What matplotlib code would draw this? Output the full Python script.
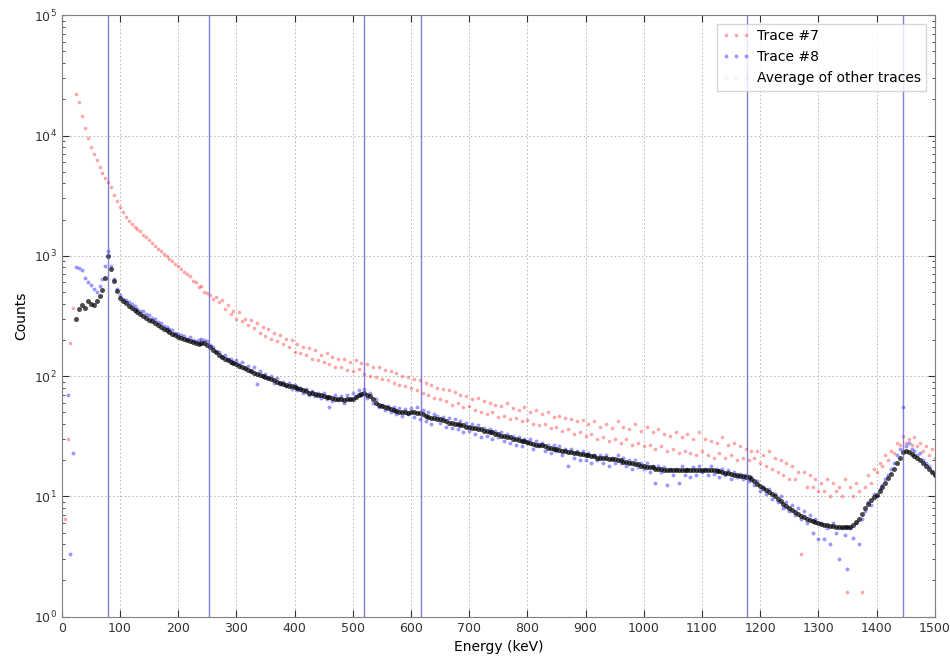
import numpy as np
import matplotlib
matplotlib.use('Agg')
import matplotlib.pyplot as plt
from matplotlib.ticker import LogLocator

nan = np.nan

# energy bins (keV), one every 5 keV from 5 to 1500
energy = np.arange(5, 1505, 5)

# Trace #7 (red)
trace7 = [
    6.5, 30, 190, 370, 22000, 19000, 14500, 11500, 9500, 8000,
    7000, 6200, 5500, 4900, 4400, 4100, 3700, 3200, 2850, 2560,
    2300, 2100, 1950, 1850, 1750, 1680, 1600, 1500, 1420, 1350,
    1280, 1210, 1150, 1100, 1040, 990, 940, 900, 850, 815,
    780, 740, 700, 680, 620, 610, 550, 560, 500, 490,
    470, 440, 455, 410, 430, 360, 390, 330, 350, 300,
    340, 285, 300, 265, 290, 250, 275, 230, 255, 215,
    245, 205, 230, 195, 220, 185, 205, 175, 200, 160,
    185, 155, 175, 150, 170, 140, 165, 135, 150, 130,
    155, 125, 145, 120, 140, 118, 138, 112, 132, 110,
    135, 115, 128, 105, 125, 100, 120, 98, 118, 95,
    112, 92, 110, 88, 106, 85, 100, 82, 98, 80,
    95, 76, 92, 72, 88, 70, 84, 66, 80, 64,
    78, 62, 76, 58, 74, 60, 70, 55, 68, 56,
    65, 52, 66, 50, 62, 48, 60, 50, 58, 46,
    56, 47, 60, 44, 54, 45, 52, 42, 55, 43,
    50, 40, 52, 39, 48, 40, 50, 37, 46, 38,
    47, 35, 45, 36, 44, 33, 42, 34, 43, 32,
    40, 33, 42, 30, 38, 31, 40, 29, 37, 30,
    42, 28, 38, 30, 36, 27, 40, 28, 35, 26,
    38, 27, 34, 25, 36, 26, 33, 24, 32, 25,
    34, 23, 31, 24, 33, 23, 30, 22, 34, 24,
    30, 22, 29, 21, 28, 23, 31, 21, 27, 22,
    28, 20, 26, 21, 25, 20, 24, 21, 24, 19,
    22, 18, 24, 17, 21, 16, 20, 15, 19, 14,
    18, 14, 16, 3.3, 16, 12, 15, 12, 14, 11,
    13, 11, 14, 10, 13, 11, 12, 10, 14, 1.6,
    12, 10, 13, 11, 1.6, 12, 15, 13, 17, 16,
    19, 18, 22, 20, 24, 23, 28, 27, 32, 28,
    30, 27, 31, 26, 28, 24, 26, 22, 25, 21,
]

# Trace #8 (blue)
trace8 = [
    nan, 70, 3.3, 23, 800, 790, 760, 650, 600, 570,
    530, 500, 560, 640, 820, 1100, 820, 640, 530, 470,
    440, 430, 410, 400, 380, 360, 350, 345, 330, 320,
    305, 300, 280, 275, 260, 255, 245, 240, 230, 225,
    220, 215, 205, 210, 200, 195, 200, 205, 200, 195,
    180, 175, 160, 160, 145, 150, 138, 140, 130, 135,
    125, 130, 115, 122, 110, 118, 86, 110, 100, 104,
    96, 100, 88, 96, 86, 90, 82, 88, 78, 84,
    76, 80, 72, 78, 70, 75, 68, 73, 66, 72,
    64, 55, 62, 69, 63, 68, 60, 70, 64, 72,
    68, 76, 70, 78, 66, 72, 60, 64, 55, 58,
    52, 56, 50, 55, 48, 54, 47, 53, 48, 54,
    46, 55, 44, 52, 42, 50, 40, 48, 47, 41,
    46, 38, 45, 37, 44, 36, 42, 34, 41, 35,
    40, 33, 39, 31, 37, 32, 36, 30, 35, 31,
    34, 29, 33, 28, 32, 27, 31, 26, 30, 28,
    30, 25, 29, 26, 28, 24, 27, 23, 27, 24,
    26, 22, 25, 18, 25, 21, 24, 20, 24, 20,
    23, 19, 22, 20, 22, 19, 22, 18, 21, 19,
    22, 19, 21, 18, 20, 17, 20, 17.5, 19, 17,
    19, 16, 18, 13, 18, 16, 17.5, 12.5, 17, 15,
    17, 13, 18, 15, 17, 14.5, 17.5, 15, 18, 16,
    17, 15, 18, 15.5, 17, 14.5, 17, 15, 16.5, 14,
    16, 14.5, 15.5, 14, 15, 13.5, 14.5, 12.5, 13.5, 11,
    12, 10.5, 11.5, 9.5, 10.5, 9, 10, 8, 9, 7.5,
    8.5, 7, 8, 6.5, 7.5, 6, 7, 5, 6.5, 4.4,
    6, 4.4, 5.5, 4, 6, 5, 3.0, 5.5, 4.8, 2.5,
    5.5, 4.5, 6, 4, 6.5, 7.5, 9, 8.5, 10.5, 10,
    11.5, 12.5, 14, 15, 17, 19, 22, 25, 55, 26,
    28, 25, 24, 22, 23, 20, 19, 18, 16, 15,
]

# Average of other traces (black)
average = [
    nan, nan, nan, nan, 300, 360, 390, 370, 420, 400,
    390, 420, 460, 520, 650, 1000, 780, 620, 510, 450,
    420, 405, 385, 370, 355, 340, 328, 315, 305, 295,
    285, 275, 265, 255, 248, 240, 232, 225, 218, 212,
    208, 204, 200, 196, 192, 188, 186, 190, 188, 182,
    175, 166, 158, 150, 145, 140, 136, 132, 128, 125,
    122, 118, 116, 113, 110, 107, 104, 102, 100, 98,
    96, 94, 92, 90, 88, 86, 85, 83, 82, 81,
    79, 78, 76, 75, 73, 72, 71, 70, 69, 68,
    67, 67, 66, 65, 65, 64, 63, 64, 65, 65,
    67, 69, 71, 72, 70, 68, 64, 60, 58, 56,
    55, 54, 53, 52, 51, 50, 50, 50, 49, 50,
    50, 49, 49, 48, 47, 46, 45, 45, 44, 44,
    43, 42, 41, 41, 40, 40, 39, 39, 38, 38,
    37, 37, 36, 36, 35, 35, 34, 34, 33, 33,
    32, 32, 31, 31, 30, 30, 29.5, 29, 29, 28.5,
    28, 27.5, 27, 27, 26.5, 26, 25.5, 25.5, 25, 25,
    24.5, 24, 24, 23.5, 23.5, 23, 23, 22.5, 22.5, 22,
    22, 21.5, 21.5, 21, 21, 21, 21, 20.5, 20.5, 20.5,
    20, 20, 19.5, 19.5, 19, 19, 18.5, 18.5, 18, 18,
    17.5, 17.5, 17.5, 17, 17, 17, 16.5, 16.5, 16.5, 16.5,
    16.5, 16.5, 16.5, 16.5, 16.5, 16.5, 16.5, 16.5, 16.5, 16.5,
    16.5, 16.5, 16.5, 16.5, 16.3, 16.2, 16, 15.8, 15.6, 15.4,
    15.2, 15, 14.8, 14.7, 14.6, 14.4, 14, 13.4, 12.8, 12.2,
    11.7, 11.2, 10.8, 10.4, 10, 9.5, 9.1, 8.7, 8.3, 8.0,
    7.7, 7.4, 7.1, 6.9, 6.7, 6.5, 6.4, 6.2, 6.1, 6.0,
    5.9, 5.8, 5.8, 5.7, 5.7, 5.6, 5.6, 5.6, 5.6, 5.6,
    5.6, 5.8, 6.1, 6.5, 7.2, 8.0, 8.7, 9.3, 9.8, 10.2,
    11, 12, 13, 14.2, 15.5, 17, 19, 21, 23.5, 24,
    23.5, 22.5, 21.5, 21, 20, 19, 18, 17, 16, 15,
]

# reference lines (keV)
lines_kev = [79, 253, 519, 617, 1178, 1446]

fig = plt.figure(figsize=(9.5, 6.61), dpi=100)
ax = fig.add_axes([0.065, 0.067, 0.919, 0.910])

ax.plot(energy, trace7, 'o', color='r', alpha=0.35, ms=2.6, mec='none', label='Trace #7')
ax.plot(energy, trace8, 'o', color='b', alpha=0.4, ms=2.8, mec='none', label='Trace #8')
ax.plot(energy, average, 'o', color='k', alpha=0.7, ms=3.6, mec='none',
        label='Average of other traces')

for e in lines_kev:
    ax.axvline(e, color='#5555cc', lw=1, alpha=0.75)

ax.set_yscale('log')
ax.set_xlim(0, 1500)
ax.set_ylim(1, 1e5)
ax.set_xticks(np.arange(0, 1501, 100))
ax.yaxis.set_major_locator(LogLocator(base=10))
ax.yaxis.set_minor_locator(LogLocator(base=10, subs=np.arange(2, 10)))

ax.grid(True, which='major', color='0.7', linestyle=(0, (1.5, 2.5)), lw=0.7)
ax.tick_params(which='both', direction='in', top=True, right=True, labelsize=9, colors='0.2')
ax.tick_params(which='major', length=5)
ax.tick_params(which='minor', length=2.5)
for s in ax.spines.values():
    s.set_color('0.5')

ax.set_xlabel('Energy (keV)', fontsize=10)
ax.set_ylabel('Counts', fontsize=10)

leg = ax.legend(loc='upper right', fontsize=10, numpoints=3, fancybox=False,
                edgecolor='0.8', borderaxespad=0.6, handletextpad=0.5)
leg.legend_handles[2].set_alpha(0.03)

plt.savefig('out.png', dpi=100)
